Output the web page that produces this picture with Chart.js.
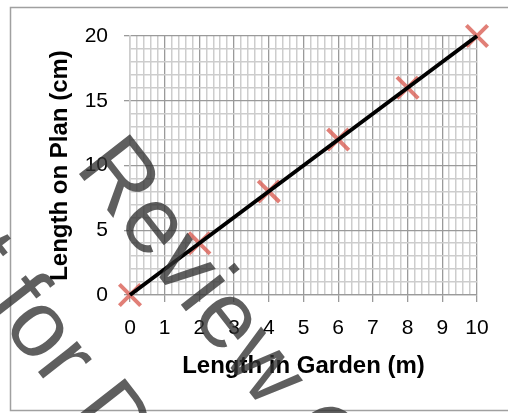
<!DOCTYPE html>
<html>
<head>
<meta charset="utf-8">
<script src="https://cdn.jsdelivr.net/npm/chart.js@4"></script>
<style>
  html, body { margin: 0; padding: 0; background: #fff; overflow: hidden; }
  #wrap { position: relative; width: 508px; height: 413px; }
</style>
</head>
<body>
<div id="wrap"><canvas id="scaleChart"></canvas></div>
<script>
// measured points: length in garden (m) -> length on plan (cm)
const gardenLengths = [0, 2, 4, 6, 8, 10];
const planLengths = [0, 4, 8, 12, 16, 20];

// straight line drawn through the points
const fitX = [0, 10];
const fitY = [0, 20];

// labelled ticks (major), minor grid in between
const xTickLabels = [0, 1, 2, 3, 4, 5, 6, 7, 8, 9, 10];
const yTickLabels = [0, 5, 10, 15, 20];

const watermarkLines = ['Review Copy', 'Not for Distribution'];

const FONT = "'Liberation Sans', Arial, sans-serif";
const MAJOR = '#9a9a9a';
const MINOR = '#cdcdcd';

const isMajor = (v, list) => list.some(t => Math.abs(t - v) < 1e-6);

const frame = {
    id: 'frame',
    beforeDraw(chart) {
        const ctx = chart.ctx;
        ctx.save();
        ctx.strokeStyle = '#a0a0a0';
        ctx.lineWidth = 1.5;
        ctx.strokeRect(10.5, 7.5, 520, 403);
        ctx.restore();
    }
};

const watermark = {
    id: 'watermark',
    afterDraw(chart) {
        const ctx = chart.ctx;
        ctx.save();
        ctx.setTransform(1, 0, 0, 1, 0, 0);
        ctx.rotate(52 * Math.PI / 180);
        ctx.fillStyle = 'rgba(50, 50, 50, 0.78)';
        ctx.font = '94px ' + FONT;
        ctx.textAlign = 'left';
        ctx.textBaseline = 'alphabetic';
        ctx.fillText(watermarkLines[0], 178, 45);
        ctx.fillText(watermarkLines[1], 59, 199);
        ctx.restore();
    }
};

const ctx = document.getElementById('scaleChart').getContext('2d');
new Chart(ctx, {
    type: 'scatter',
    data: {
        datasets: [
            {
                label: 'Line',
                data: fitX.map((x, i) => ({ x, y: fitY[i] })),
                showLine: true,
                borderColor: '#000',
                borderWidth: 4,
                pointRadius: 0,
                clip: false,
                order: 0
            },
            {
                label: 'Measured',
                data: gardenLengths.map((x, i) => ({ x, y: planLengths[i] })),
                pointStyle: 'crossRot',
                pointRadius: 15,
                pointBorderWidth: 4,
                pointBorderColor: 'rgba(218, 95, 85, 0.8)',
                pointBackgroundColor: 'rgba(218, 95, 85, 0.8)',
                clip: false,
                order: 1
            }
        ]
    },
    options: {
        responsive: true,
        maintainAspectRatio: false,
        animation: false,
        layout: { padding: { top: 36, right: 31, left: 0, bottom: 0 } },
        plugins: { legend: { display: false }, tooltip: { enabled: false } },
        scales: {
            x: {
                type: 'linear',
                min: 0,
                max: 10,
                afterFit: s => { s.height = 118; },
                ticks: {
                    stepSize: 0.2,
                    autoSkip: false,
                    maxRotation: 0,
                    padding: 14,
                    color: '#000',
                    font: { family: FONT, size: 21 },
                    callback: v => isMajor(v, xTickLabels) ? String(Math.round(v)) : ''
                },
                grid: {
                    color: c => isMajor(c.tick.value, xTickLabels) ? MAJOR : MINOR,
                    lineWidth: c => isMajor(c.tick.value, xTickLabels) ? 1.3 : 1.5,
                    tickColor: c => isMajor(c.tick.value, xTickLabels) ? MAJOR : 'rgba(0,0,0,0)',
                    tickLength: 7
                },
                border: { color: MAJOR, width: 1.3 },
                title: {
                    display: true,
                    text: 'Length in Garden (m)',
                    color: '#000',
                    font: { family: FONT, size: 24, weight: 'bold' },
                    padding: { top: 0, bottom: 32 }
                }
            },
            y: {
                type: 'linear',
                min: 0,
                max: 20,
                afterFit: s => { s.width = 130; },
                ticks: {
                    stepSize: 1,
                    autoSkip: false,
                    padding: 16,
                    color: '#000',
                    font: { family: FONT, size: 21 },
                    callback: v => isMajor(v, yTickLabels) ? String(Math.round(v)) : ''
                },
                grid: {
                    color: c => isMajor(c.tick.value, yTickLabels) ? MAJOR : MINOR,
                    lineWidth: c => isMajor(c.tick.value, yTickLabels) ? 1.3 : 1.5,
                    tickColor: c => isMajor(c.tick.value, yTickLabels) ? MAJOR : 'rgba(0,0,0,0)',
                    tickLength: 6
                },
                border: { color: MINOR, width: 1.5 },
                title: {
                    display: true,
                    text: 'Length on Plan (cm)',
                    color: '#000',
                    font: { family: FONT, size: 24, weight: 'bold' },
                    padding: { top: 46, bottom: 0 }
                }
            }
        }
    },
    plugins: [frame, watermark]
});
</script>
</body>
</html>
